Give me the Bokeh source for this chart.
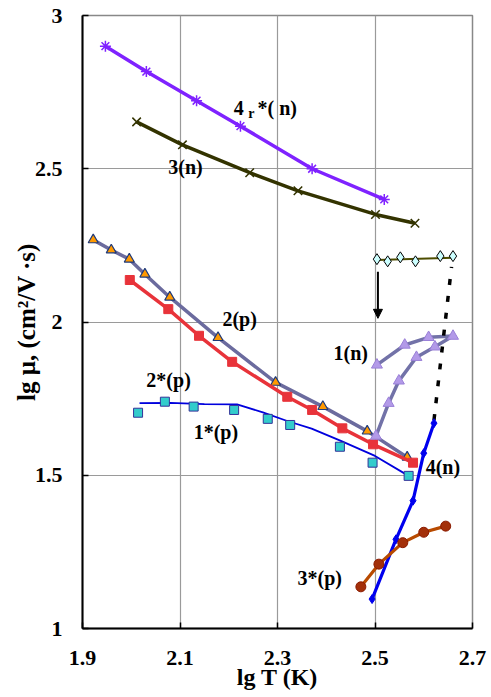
from bokeh.plotting import figure
from bokeh.models import Range1d, FixedTicker, Arrow, NormalHead, Label
from bokeh.embed import file_html
from bokeh.resources import INLINE

# ---- data ----
x_ticks = [1.9, 2.1, 2.3, 2.5, 2.7]
x_tick_labels = ["1.9", "2.1", "2.3", "2.5", "2.7"]
y_ticks = [1.0, 1.5, 2.0, 2.5, 3.0]
y_tick_labels = ["1", "1.5", "2", "2.5", "3"]

s4r_x = [1.947, 2.031, 2.134, 2.224, 2.371, 2.519]
s4r_y = [2.900, 2.817, 2.722, 2.639, 2.500, 2.400]

s3n_x = [2.011, 2.105, 2.243, 2.342, 2.501, 2.582]
s3n_y = [2.653, 2.578, 2.487, 2.428, 2.351, 2.322]

s2p_x = [1.922, 1.959, 1.996, 2.028, 2.079, 2.178, 2.296, 2.393, 2.484, 2.566]
s2p_y = [2.268, 2.235, 2.205, 2.156, 2.081, 1.949, 1.803, 1.724, 1.644, 1.559]

s2sp_x = [1.997, 2.076, 2.139, 2.207, 2.320, 2.371, 2.433, 2.496, 2.578]
s2sp_y = [2.137, 2.042, 1.955, 1.870, 1.756, 1.713, 1.653, 1.601, 1.541]

s1sp_x = [2.014, 2.069, 2.128, 2.211, 2.280, 2.326, 2.428, 2.495, 2.569]
s1sp_y = [1.704, 1.740, 1.724, 1.713, 1.684, 1.664, 1.593, 1.541, 1.498]
s1sp_fit_x = [2.017, 2.080, 2.150, 2.217, 2.270, 2.320, 2.370, 2.430, 2.500, 2.569]
s1sp_fit_y = [1.735, 1.736, 1.732, 1.731, 1.705, 1.677, 1.652, 1.612, 1.563, 1.498]

s1n_x = [2.502, 2.528, 2.549, 2.585, 2.623, 2.660, 2.610, 2.561, 2.504]
s1n_y = [1.628, 1.735, 1.808, 1.885, 1.919, 1.954, 1.950, 1.925, 1.860]

dia_x = [2.504, 2.526, 2.552, 2.583, 2.634, 2.660]
dia_y = [2.205, 2.198, 2.211, 2.198, 2.215, 2.215]
dia_fit_x = [2.504, 2.660]
dia_fit_y = [2.202, 2.210]

s4n_x = [2.494, 2.543, 2.578, 2.600, 2.621]
s4n_y = [1.096, 1.291, 1.417, 1.572, 1.670]

s3sp_x = [2.471, 2.508, 2.557, 2.600, 2.645]
s3sp_y = [1.136, 1.210, 1.280, 1.314, 1.334]

dot_x = [2.621, 2.657]
dot_y = [1.680, 2.180]

arrow_x = [2.506, 2.506]
arrow_y = [2.164, 2.012]

FONT = "Liberation Serif"

p = figure(width=491, height=697, output_backend="svg", toolbar_location=None,
           x_range=Range1d(1.9, 2.7), y_range=Range1d(1.0, 3.0),
           min_border_left=82, min_border_right=19, min_border_top=15,
           min_border_bottom=69, background_fill_color="white",
           border_fill_color="white")

p.outline_line_color = "#888888"
p.outline_line_width = 1.5

p.xaxis.ticker = FixedTicker(ticks=x_ticks)
p.yaxis.ticker = FixedTicker(ticks=y_ticks)
p.xaxis.major_label_overrides = dict(zip(x_ticks, x_tick_labels))
p.yaxis.major_label_overrides = dict(zip(y_ticks, y_tick_labels))

for ax in (p.xaxis, p.yaxis):
    ax.axis_line_color = "black"
    ax.axis_line_width = 2
    ax.major_tick_in = 6
    ax.major_tick_out = 0
    ax.minor_tick_line_color = None
    ax.major_tick_line_color = "black"
    ax.major_tick_line_width = 1.5
    ax.major_label_text_font = FONT
    ax.major_label_text_font_style = "bold"
    ax.major_label_text_font_size = "22px"
    ax.major_label_text_color = "black"
    ax.axis_label_text_font = FONT
    ax.axis_label_text_font_style = "bold"
    ax.axis_label_text_color = "black"

p.xaxis.axis_label_text_font_size = "24px"
p.yaxis.axis_label_text_font_size = "25px"
p.xaxis.axis_label = "lg T (K)"
p.yaxis.axis_label = "lg μ, (cm²/V ·s)"
p.xaxis.major_label_standoff = 22
p.xaxis.axis_label_standoff = -4
p.yaxis.major_label_standoff = 20
p.yaxis.axis_label_standoff = -8

p.grid.grid_line_color = "#9a9a9a"
p.grid.grid_line_width = 1.2

# 4r*(n)
p.line(s4r_x, s4r_y, line_color="#7f22ff", line_width=3.5)
p.scatter(s4r_x, s4r_y, marker="asterisk", size=11, line_color="#7f22ff", line_width=1.5)

# 3(n)
p.line(s3n_x, s3n_y, line_color="#333300", line_width=3.5)
p.scatter(s3n_x, s3n_y, marker="x", size=12, line_color="#333300", line_width=1.5)

# 2(p)
p.line(s2p_x, s2p_y, line_color="#6b6b9e", line_width=3.5)
p.scatter(s2p_x, s2p_y, marker="triangle", size=10, fill_color="#ff9900",
          line_color="#1f3a7a", line_width=1.2)

# 2*(p)
p.line(s2sp_x, s2sp_y, line_color="#e8333a", line_width=3.5)
p.scatter(s2sp_x, s2sp_y, marker="square", size=9, fill_color="#e8333a",
          line_color="#e8333a")

# 1*(p)
p.line(s1sp_fit_x, s1sp_fit_y, line_color="#0000dd", line_width=1.8)
p.scatter(s1sp_x, s1sp_y, marker="square", size=9, fill_color="#33cccc",
          line_color="#333399", line_width=1)

# 1(n)
p.line(s1n_x, s1n_y, line_color="#7272a8", line_width=3.5)
p.scatter(s1n_x, s1n_y, marker="triangle", size=11, fill_color="#b39ae8",
          line_color="#9a80d8", line_width=1)

# diamonds
p.line(dia_fit_x, dia_fit_y, line_color="#4d4d00", line_width=2)
p.scatter(dia_x, dia_y, marker="diamond", size=11, fill_color="#ccffff",
          line_color="#000000", line_width=1)

# dotted connector
p.line(dot_x, dot_y, line_color="black", line_width=3.5, line_dash="6 11")

# 4(n)
p.line(s4n_x, s4n_y, line_color="#0000ee", line_width=3.2)
p.scatter(s4n_x, s4n_y, marker="diamond", size=9, fill_color="#0000ee",
          line_color="#0000ee")

# 3*(p)
p.line(s3sp_x, s3sp_y, line_color="#b84a00", line_width=3.2)
p.scatter(s3sp_x, s3sp_y, marker="circle", size=10, fill_color="#a3300a",
          line_color="#8b1a00", line_width=1)

# arrow
p.add_layout(Arrow(end=NormalHead(size=9, fill_color="black", line_color="black"),
                   x_start=arrow_x[0], y_start=arrow_y[0],
                   x_end=arrow_x[1], y_end=arrow_y[1],
                   line_color="black", line_width=2))

labels = [
    ("4", 2.210, 2.698, "20px"),
    ("r", 2.240, 2.680, "14px"),
    ("*( n)", 2.259, 2.698, "20px"),
    ("3(n)", 2.076, 2.506, "20px"),
    ("2(p)", 2.187, 2.010, "20px"),
    ("2*(p)", 2.031, 1.811, "20px"),
    ("1*(p)", 2.128, 1.641, "20px"),
    ("1(n)", 2.415, 1.899, "20px"),
    ("4(n)", 2.604, 1.527, "20px"),
    ("3*(p)", 2.341, 1.165, "20px"),
]
for txt, lx, ly, fs in labels:
    p.add_layout(Label(x=lx, y=ly, text=txt, text_font=FONT, text_font_style="bold",
                       text_font_size=fs, text_baseline="middle", text_align="left",
                       text_color="black"))

open("out.html", "w").write(file_html(p, INLINE))
